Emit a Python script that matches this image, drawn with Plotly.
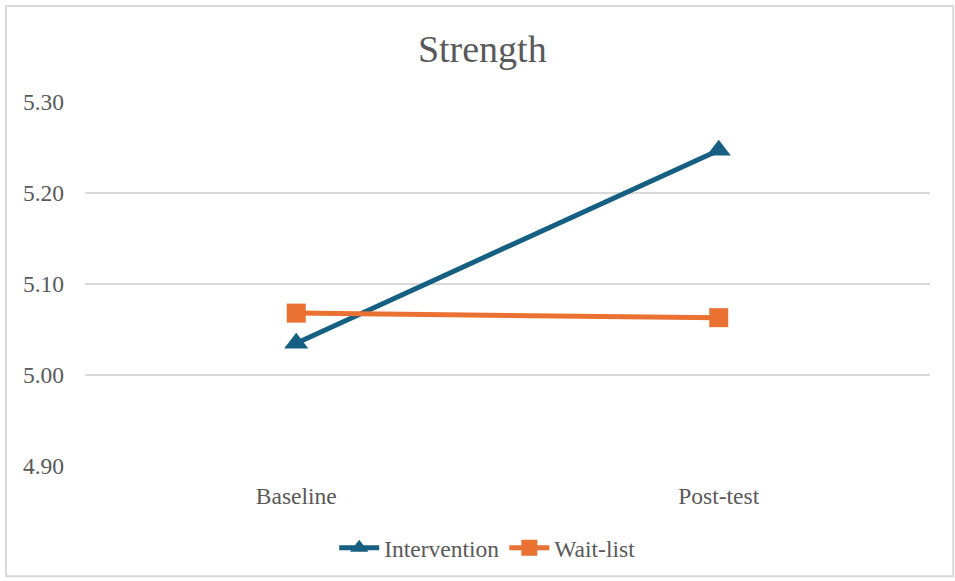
import plotly.graph_objects as go

categories = ["Baseline", "Post-test"]
intervention = [5.035, 5.247]
waitlist = [5.068, 5.063]
y_ticks = [4.90, 5.00, 5.10, 5.20, 5.30]
title_text = "Strength"

BLUE = "#156082"
ORANGE = "#E97132"
TXT = "#595959"
FONT = "Liberation Serif"

fig = go.Figure()
fig.add_trace(go.Scatter(
    x=categories, y=intervention, name="Intervention", mode="lines+markers",
    line=dict(color=BLUE, width=5),
    marker=dict(symbol="triangle-up", size=21, color=BLUE),
))
fig.add_trace(go.Scatter(
    x=categories, y=waitlist, name="Wait-list", mode="lines+markers",
    line=dict(color=ORANGE, width=5),
    marker=dict(symbol="square", size=19, color=ORANGE),
))

fig.update_layout(
    width=955, height=581,
    margin=dict(l=85, r=25, t=102, b=114),
    paper_bgcolor="white", plot_bgcolor="white",
    font=dict(family=FONT, color=TXT, size=23.5),
    title=dict(text=title_text, x=0.505, xanchor="center", y=0.917, yanchor="middle",
               font=dict(size=38, color=TXT, family=FONT)),
    xaxis=dict(type="category", range=[-0.5, 1.5], showgrid=False, zeroline=False,
               showline=False, ticks="", ticklabelstandoff=13,
               tickfont=dict(size=23.5, color=TXT, family=FONT)),
    yaxis=dict(range=[4.9, 5.3], tickvals=y_ticks, tickformat=".2f",
               showgrid=True, gridcolor="#D9D9D9", gridwidth=2, zeroline=False,
               showline=False, ticks="", ticklabelstandoff=20,
               tickfont=dict(size=23.5, color=TXT, family=FONT)),
    showlegend=True,
    legend=dict(orientation="h", x=0.476, xanchor="center", y=-0.222, yanchor="middle",
                font=dict(size=23.5, color=TXT, family=FONT), itemwidth=40, tracegroupgap=0),
    shapes=[dict(type="rect", xref="paper", yref="paper",
                 x0=-0.0935, x1=1.0275, y0=-0.303, y1=1.264,
                 line=dict(color="#D9D9D9", width=2), fillcolor="rgba(0,0,0,0)",
                 layer="below")],
)

fig.write_html("out.html")
